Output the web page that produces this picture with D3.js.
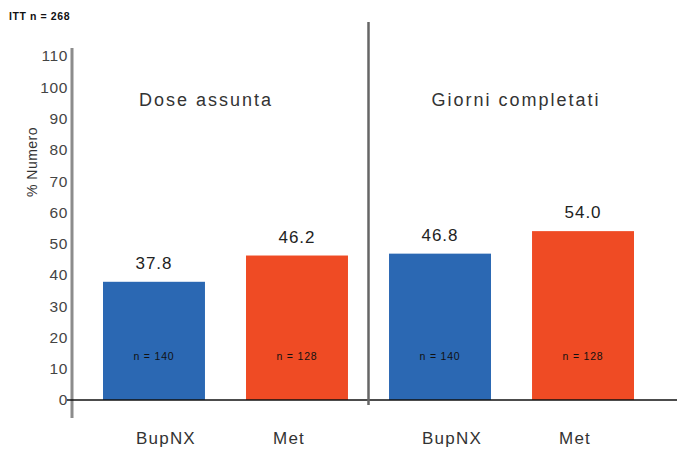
<!DOCTYPE html>
<html>
<head>
<meta charset="utf-8">
<script src="https://cdn.jsdelivr.net/npm/d3@7"></script>
<style>
  body { margin: 0; background: #fff; }
  svg { font-family: "Liberation Sans", Arial, sans-serif; }
</style>
</head>
<body>
<svg id="chart" width="677" height="449"></svg>
<script>
// data
var groups = ["Dose assunta", "Giorni completati"];
var arms = ["BupNX", "Met"];
var values = [37.8, 46.2, 46.8, 54.0];
var nLabels = ["n = 140", "n = 128", "n = 140", "n = 128"];
var yTicks = [0, 10, 20, 30, 40, 50, 60, 70, 80, 90, 100, 110];

var BLUE = "#2b68b3", RED = "#ef4b24";

var svg = d3.select("#chart");

var y = d3.scaleLinear().domain([0, 110]).range([400, 56]);
var bars = values.map(function(v, i) {
    return {value: v, key: i, arm: arms[i % 2], n: nLabels[i]};
});
var x = d3.scaleBand()
    .domain(bars.map(function(d) { return d.key; }))
    .range([103, 634])
    .paddingInner(0.287)
    .paddingOuter(0);

// top note
svg.append("text")
    .attr("x", 9).attr("y", 20)
    .attr("font-size", 10.5).attr("font-weight", "bold")
    .attr("letter-spacing", 0.6)
    .attr("fill", "#111")
    .text("ITT n = 268");

// y axis
var yAxis = svg.append("g")
    .attr("transform", "translate(72,0)")
    .call(d3.axisLeft(y).tickValues(yTicks).tickSize(0).tickPadding(4));
yAxis.select(".domain").remove();
yAxis.selectAll("text")
    .attr("font-size", 15.5)
    .attr("letter-spacing", 0.6)
    .attr("fill", "#444")
    .attr("font-family", "Liberation Sans, Arial, sans-serif");

svg.append("line")
    .attr("x1", 72).attr("x2", 72)
    .attr("y1", 48).attr("y2", 418)
    .attr("stroke", "#8c8c8c").attr("stroke-width", 3);

// y label
svg.append("text")
    .attr("transform", "translate(37,162) rotate(-90)")
    .attr("text-anchor", "middle")
    .attr("font-size", 14)
    .attr("letter-spacing", 0.5)
    .attr("fill", "#333")
    .text("% Numero");

// bars
svg.selectAll("rect.bar")
    .data(bars)
    .enter().append("rect")
    .attr("class", "bar")
    .attr("x", function(d) { return x(d.key); })
    .attr("width", x.bandwidth())
    .attr("y", function(d) { return y(d.value); })
    .attr("height", function(d) { return y(0) - y(d.value); })
    .attr("fill", function(d) { return d.arm === "BupNX" ? BLUE : RED; });

// value labels
svg.selectAll("text.val")
    .data(bars)
    .enter().append("text")
    .attr("class", "val")
    .attr("x", function(d) { return x(d.key) + x.bandwidth() / 2; })
    .attr("y", function(d) { return y(d.value) - 13; })
    .attr("text-anchor", "middle")
    .attr("font-size", 17)
    .attr("letter-spacing", 1)
    .attr("fill", "#222")
    .text(function(d) { return d.value.toFixed(1); });

// n labels inside bars
svg.selectAll("text.n")
    .data(bars)
    .enter().append("text")
    .attr("class", "n")
    .attr("x", function(d) { return x(d.key) + x.bandwidth() / 2; })
    .attr("y", y(12.8))
    .attr("text-anchor", "middle")
    .attr("font-size", 10.5)
    .attr("letter-spacing", 0.8)
    .attr("fill", "#111")
    .text(function(d) { return d.n; });

// category labels
svg.selectAll("text.cat")
    .data(bars)
    .enter().append("text")
    .attr("class", "cat")
    .attr("x", function(d) { return x(d.key) + x.bandwidth() / 2 + (d.arm === "BupNX" ? 12 : -8); })
    .attr("y", 444)
    .attr("text-anchor", "middle")
    .attr("font-size", 17)
    .attr("letter-spacing", 1.2)
    .attr("fill", "#333")
    .text(function(d) { return d.arm; });

// baseline
svg.append("line")
    .attr("x1", 67).attr("x2", 677)
    .attr("y1", y(0)).attr("y2", y(0))
    .attr("stroke", "#111").attr("stroke-width", 1.5);

// group divider
var divX = (x(1) + x.bandwidth() + x(2)) / 2;
svg.append("line")
    .attr("x1", divX).attr("x2", divX)
    .attr("y1", 22).attr("y2", 405)
    .attr("stroke", "#666").attr("stroke-width", 2.5);

// group titles
svg.selectAll("text.grp")
    .data(groups)
    .enter().append("text")
    .attr("class", "grp")
    .attr("x", function(d, i) { return i === 0 ? 206 : 516; })
    .attr("y", 106)
    .attr("text-anchor", "middle")
    .attr("font-size", 18)
    .attr("letter-spacing", 2)
    .attr("fill", "#333")
    .text(function(d) { return d; });
</script>
</body>
</html>
